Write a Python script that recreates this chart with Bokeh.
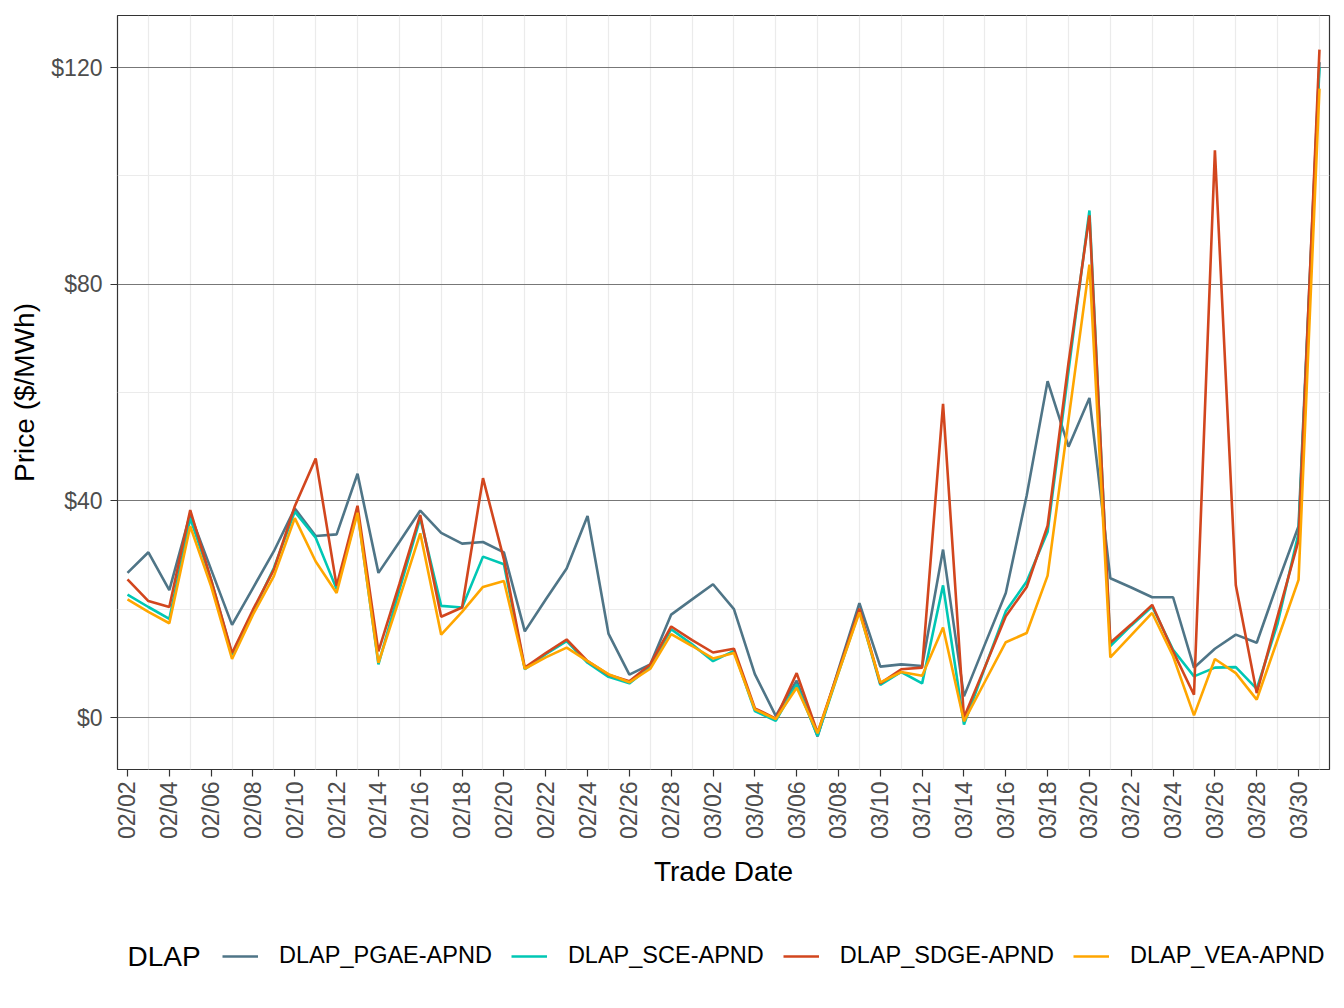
import math
import pandas as pd
from bokeh.plotting import figure
from bokeh.layouts import column
from bokeh.models import (ColumnDataSource, FixedTicker, NumeralTickFormatter,
                          DatetimeTickFormatter, Range1d, Legend, LegendItem, Label)
from bokeh.embed import file_html
from bokeh.resources import INLINE

# Daily trade dates
dates = pd.date_range("2021-02-02", "2021-03-31", freq="D")

# Day-ahead prices ($/MWh) per DLAP
pgae = [26.7, 30.5, 23.5, 37.6, 27.3, 17.1, 23.9, 30.7, 38.6, 33.5,
        33.8, 45.0, 26.7, 32.4, 38.2, 34.1, 32.1, 32.4, 30.5, 15.9,
        21.8, 27.5, 37.2, 15.5, 7.9, 9.8, 19.0, 21.8, 24.6, 20.0,
        8.0, 0.3, 6.8, -3.5, 8.9, 21.1, 9.4, 9.8, 9.5, 31.0,
        3.9, 13.5, 23.0, 41.0, 62.1, 50.0, 59.0, 25.7, 24.0, 22.2,
        22.2, 9.2, 12.7, 15.3, 13.8, 24.8, 35.3, 121.0]
sce = [22.7, 20.4, 18.2, 36.8, 25.4, 11.6, 19.5, 27.6, 38.0, 33.2,
       23.7, 38.1, 9.8, 23.5, 36.8, 20.6, 20.3, 29.7, 28.3, 8.9,
       11.7, 14.1, 10.1, 7.5, 6.3, 9.4, 16.3, 13.5, 10.4, 12.3,
       1.2, -0.6, 6.1, -3.4, 8.3, 19.7, 6.0, 8.4, 6.3, 24.4,
       -1.3, 9.2, 19.6, 25.1, 34.3, 64.0, 93.6, 13.2, 17.0, 20.5,
       12.5, 7.6, 9.2, 9.3, 5.3, 17.4, 34.0, 120.0]
sdge = [25.5, 21.5, 20.4, 38.3, 25.4, 11.9, 19.9, 27.3, 39.0, 47.8,
        24.3, 39.1, 12.2, 24.6, 37.4, 18.6, 20.3, 44.2, 29.2, 9.2,
        11.9, 14.4, 10.4, 7.9, 6.7, 9.8, 16.8, 14.3, 12.0, 12.7,
        1.7, -0.2, 8.2, -2.8, 8.6, 20.1, 6.3, 8.9, 9.2, 57.9,
        0.0, 9.3, 18.7, 24.1, 35.4, 65.5, 92.7, 13.8, 17.2, 20.8,
        12.2, 4.2, 104.7, 24.4, 4.5, 18.7, 32.7, 123.3]
vea = [21.8, 19.5, 17.4, 35.3, 24.2, 10.8, 19.0, 26.1, 36.8, 28.8,
       23.0, 37.8, 10.1, 21.9, 34.0, 15.3, 19.5, 24.1, 25.2, 9.0,
       11.1, 12.9, 10.4, 8.0, 6.5, 9.0, 15.4, 13.2, 10.9, 11.9,
       1.5, -0.3, 5.5, -2.9, 8.3, 19.4, 6.5, 8.4, 7.7, 16.6,
       -0.7, 6.6, 13.9, 15.6, 26.2, 55.0, 83.6, 11.1, 15.2, 19.3,
       11.3, 0.4, 10.8, 8.2, 3.3, 14.4, 25.4, 116.1]

series_names = ["DLAP_PGAE-APND", "DLAP_SCE-APND", "DLAP_SDGE-APND", "DLAP_VEA-APND"]
series_cols = ["pgae", "sce", "sdge", "vea"]
series_colors = ["#4F7587", "#00C7B4", "#D2461E", "#FFA600"]

y_major = [0, 40, 80, 120]
y_minor = [20, 60, 100]

source = ColumnDataSource(dict(date=dates, pgae=pgae, sce=sce, sdge=sdge, vea=vea))

FONT = "Liberation Sans"
DAY_MS = 86400000.0
LINE_W = 2.6


def to_ms(ts):
    return ts.timestamp() * 1000.0


# ---------- main price chart ----------
p = figure(width=1344, height=890, x_axis_type="datetime",
           output_backend="svg", toolbar_location=None,
           min_border_left=117, min_border_right=15,
           min_border_top=15, min_border_bottom=120)

p.x_range = Range1d(to_ms(dates[0]) - 0.478 * DAY_MS, to_ms(dates[-1]) + 0.48 * DAY_MS)
p.y_range = Range1d(-9.6, 129.6)

p.background_fill_color = "white"
p.border_fill_color = "white"
p.outline_line_color = "#333333"
p.outline_line_width = 1.2

for col, color in zip(series_cols, series_colors):
    p.line(x="date", y=col, source=source, line_color=color, line_width=LINE_W)

# x axis: every second day, vertical labels
xticks = [to_ms(d) for d in dates[::2]]
p.xaxis.ticker = FixedTicker(ticks=xticks)
fmt = "%m/%d"
p.xaxis.formatter = DatetimeTickFormatter(days=fmt, months=fmt, years=fmt, hours=fmt,
                                          hourmin=fmt, minutes=fmt, minsec=fmt,
                                          seconds=fmt, milliseconds=fmt, microseconds=fmt)
p.xaxis.major_label_orientation = math.pi / 2
p.xaxis.axis_label = "Trade Date"

# y axis
p.yaxis.ticker = FixedTicker(ticks=y_major, minor_ticks=y_minor)
p.yaxis.formatter = NumeralTickFormatter(format="$0")
p.yaxis.axis_label = "Price ($/MWh)"

for ax in (p.xaxis[0], p.yaxis[0]):
    ax.axis_line_color = None
    ax.major_tick_line_color = "#333333"
    ax.major_tick_line_width = 1.2
    ax.major_tick_in = 0
    ax.major_tick_out = 7
    ax.minor_tick_line_color = None
    ax.major_label_text_font = FONT
    ax.major_label_text_font_size = "23px"
    ax.major_label_text_color = "#4D4D4D"
    ax.axis_label_text_font = FONT
    ax.axis_label_text_font_size = "28px"
    ax.axis_label_text_font_style = "normal"
    ax.axis_label_text_color = "#000000"
p.xaxis.major_label_standoff = 5
p.xaxis.axis_label_standoff = 14
p.yaxis.major_label_standoff = 8
p.yaxis.axis_label_standoff = 8

# grids: light lines on odd days, dark major price lines, light minor price lines
p.xgrid.ticker = FixedTicker(ticks=[to_ms(d) for d in dates[1::2]])
p.xgrid.grid_line_color = "#EBEBEB"
p.xgrid.grid_line_width = 1.2
p.ygrid.ticker = FixedTicker(ticks=y_major, minor_ticks=y_minor)
p.ygrid.grid_line_color = "#777777"
p.ygrid.grid_line_width = 1
p.ygrid.minor_grid_line_color = "#EBEBEB"
p.ygrid.minor_grid_line_width = 1.2

# ---------- legend strip (its frame lines up with the chart frame, x 117..1329) ----------
leg = figure(width=1344, height=118, output_backend="svg", toolbar_location=None,
             x_range=Range1d(117, 1329), y_range=Range1d(0, 118),
             x_axis_location=None, y_axis_location=None,
             min_border=0, min_border_left=117, min_border_right=15,
             min_border_top=0, min_border_bottom=0)
leg.outline_line_color = None
leg.xgrid.visible = False
leg.ygrid.visible = False
leg.background_fill_color = "white"
leg.border_fill_color = "white"

nan = float("nan")
key_renderers = [leg.line(x=[nan], y=[nan], line_color=c, line_width=LINE_W)
                 for c in series_colors]
items = [LegendItem(label=n, renderers=[r]) for n, r in zip(series_names, key_renderers)]
legend = Legend(items=items, orientation="horizontal", location=(105, 39))
legend.label_text_font = FONT
legend.label_text_font_size = "23.5px"
legend.label_text_color = "#000000"
legend.label_standoff = 21
legend.glyph_width = 36
legend.glyph_height = 26
legend.spacing = 19
legend.margin = 0
legend.padding = 0
legend.border_line_color = None
legend.background_fill_alpha = 0
leg.add_layout(legend)

leg.add_layout(Label(x=127, y=52, text="DLAP", text_font=FONT, text_font_size="28px",
                     text_color="#000000", text_baseline="middle", text_align="left"))

layout = column(p, leg, spacing=0)
open("out.html", "w").write(file_html(layout, INLINE))
